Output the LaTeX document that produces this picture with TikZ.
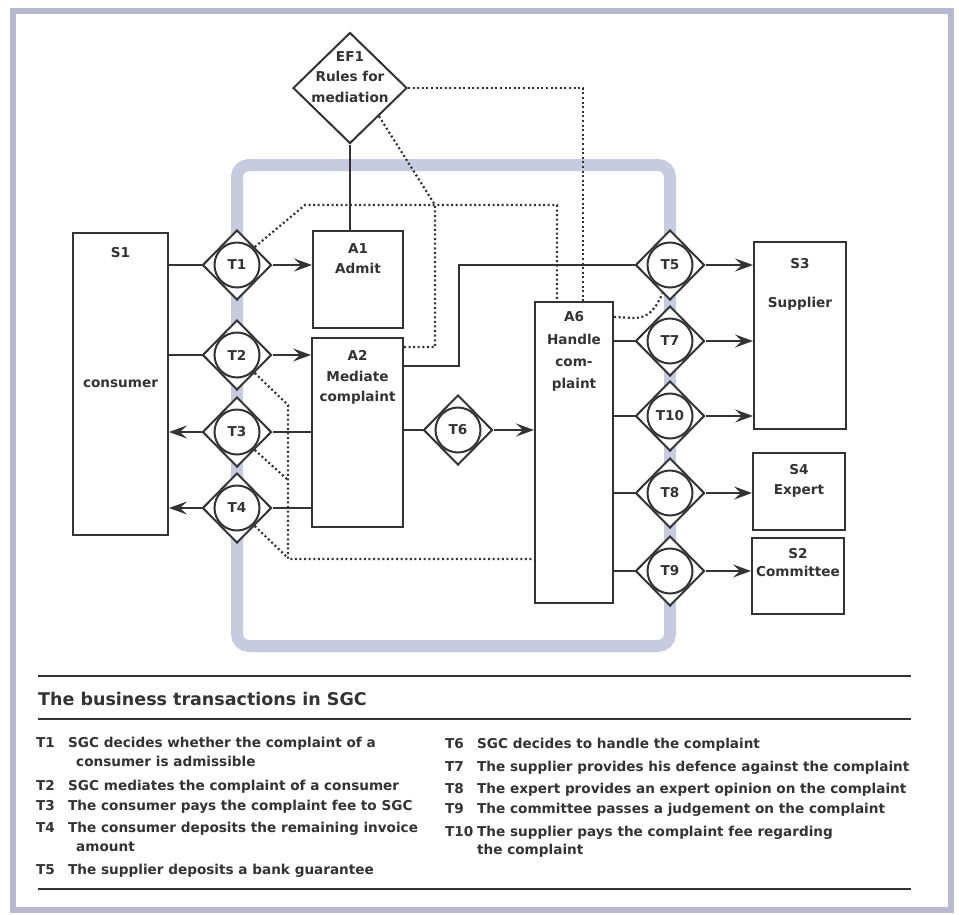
\documentclass[tikz,border=0pt]{standalone}
\usepackage{fontspec}
\setmainfont{DejaVu Sans}
\usetikzlibrary{shapes.geometric, arrows.meta}
\definecolor{ink}{HTML}{333333}
\definecolor{bandgrey}{HTML}{C8CBE0}
\definecolor{framegrey}{HTML}{B8B8D0}

\begin{document}
\begin{tikzpicture}[x=1pt, y=-1pt,
    font=\fontsize{13.6}{20.5}\selectfont\bfseries,
    every node/.style={text=ink},
    box/.style={rectangle, draw=ink, line width=2pt, fill=white, align=center},
    trans/.style={diamond, draw=ink, line width=2pt, fill=white, inner sep=0pt,
        minimum width=69pt, minimum height=70pt,
        path picture={\draw[ink, line width=2pt] (path picture bounding box.center) circle (22.5pt);}},
    tag/.style={align=center, anchor=north},
    link/.style={draw=ink, line width=2pt},
    arr/.style={draw=ink, line width=2pt, -{Stealth[length=18pt, width=13pt, inset=7pt]}},
    dots/.style={draw=ink, line width=2.2pt, dash pattern=on 2pt off 2.6pt},
    item/.style={anchor=base west, inner sep=0pt}
]
        \fill[white] (0,0) rectangle (959,914);
        \useasboundingbox (0,0) rectangle (959,914);

        % Frame and system boundary
        \draw[framegrey, line width=6pt] (13,11) rectangle (951,910);
        \draw[bandgrey, line width=12pt, rounded corners=12pt] (237,165) rectangle (670,646);

        % Draw nodes
        \node[box, minimum width=95pt, minimum height=302pt, label={[tag, yshift=-12pt]north:S1}] (S1) at (120.5,384) {consumer};
        \node[box, minimum width=90pt, minimum height=97pt, label={[tag, yshift=-10pt]north:A1\\Admit}] (A1) at (358,279.5) {};
        \node[box, minimum width=91pt, minimum height=189pt, label={[tag, yshift=-10pt]north:A2\\Mediate\\complaint}] (A2) at (357.5,432.5) {};
        \node[box, minimum width=78pt, minimum height=301pt, label={[tag, yshift=-7pt]north:A6\\[2pt]Handle\\[2pt]com-\\[1pt]plaint}] (A6) at (574,452.5) {};
        \node[box, minimum width=92pt, minimum height=187pt, label={[tag, yshift=-14pt]north:S3\\[18pt]Supplier}] (S3) at (800,335.5) {};
        \node[box, minimum width=92pt, minimum height=77pt, label={[tag, yshift=-9pt]north:S4\\[-1pt]Expert}] (S4) at (799,491.5) {};
        \node[box, minimum width=92pt, minimum height=76pt, label={[tag, yshift=-8pt]north:S2\\[-3pt]Committee}] (S2) at (798,576) {};

        \node[diamond, draw=ink, line width=2pt, fill=white, inner sep=0pt, minimum width=114pt, minimum height=111pt] (EF1) at (350,88) {};
        \node[align=center] (EF1text) at ([yshift=11pt]EF1.center) {EF1\\Rules for\\mediation};

        \node[trans] (T1) at (237,265) {T1};
        \node[trans] (T2) at (237,355) {T2};
        \node[trans] (T3) at (237,432) {T3};
        \node[trans] (T4) at (237,508) {T4};
        \node[trans] (T6) at (458,430) {T6};
        \node[trans] (T5) at (670,265) {T5};
        \node[trans] (T7) at (670,341) {T7};
        \node[trans] (T10) at (670,416) {T10};
        \node[trans] (T8) at (670,493) {T8};
        \node[trans] (T9) at (670,571) {T9};

        % Draw connections
        \draw[link] (S1.east |- T1) -- (T1.west);
        \draw[arr] (T1.east) -- (T1 -| A1.west);
        \draw[link] (S1.east |- T2) -- (T2.west);
        \draw[arr] (T2.east) -- (T2 -| A2.west);
        \draw[link] (A2.west |- T3) -- (T3.east);
        \draw[arr] (T3.west) -- (T3 -| S1.east);
        \draw[link] (A2.west |- T4) -- (T4.east);
        \draw[arr] (T4.west) -- (T4 -| S1.east);

        \draw[link] (EF1.south) -- (EF1.south |- A1.north);

        \draw[link] ([yshift=-29pt]A2.north east) -- ++(55,0) |- (T5.west);
        \draw[arr] (T5.east) -- (T5 -| S3.west);
        \draw[link] (A2.east |- T6) -- (T6.west);
        \draw[arr] (T6.east) -- (T6 -| A6.west);

        \draw[link] (A6.east |- T7) -- (T7.west);
        \draw[arr] (T7.east) -- (T7 -| S3.west);
        \draw[link] (A6.east |- T10) -- (T10.west);
        \draw[arr] (T10.east) -- (T10 -| S3.west);
        \draw[link] (A6.east |- T8) -- (T8.west);
        \draw[arr] (T8.east) -- (T8 -| S4.west);
        \draw[link] (A6.east |- T9) -- (T9.west);
        \draw[arr] (T9.east) -- (T9 -| S2.west);

        % Dotted links
        \draw[dots] (EF1.east) -| ([xshift=9pt]A6.north);
        \draw[dots] (EF1.south east) -- (435,205) |- ([yshift=-10pt]A2.north east);
        \draw[dots] (T1.north east) -- (305,205) -| ([xshift=-17pt]A6.north);
        \draw[dots] (T2.south east) -- (288,405) |- ([yshift=45pt]A6.south west);
        \draw[dots] (T3.south east) -- (288,480);
        \draw[dots] (T4.south east) -- (288,558);
        \draw[dots] ([yshift=-16pt]A6.north east) -- (635,318) .. controls (650,318) and (657,306) .. (T5.-105);

        % Legend
        \draw[ink, line width=2.4pt] (38,676) -- (911,676);
        \node[item, font=\fontsize{17.5}{20}\selectfont\bfseries] (title) at (38,705) {The business transactions in SGC};
        \draw[ink, line width=2.4pt] (38,719) -- (911,719);

        \node[item] (k1) at (36,747) {T1};
        \node[item] (d1) at (68,747) {SGC decides whether the complaint of a};
        \node[item] (d1b) at (76,766) {consumer is admissible};
        \node[item] (k2) at (36,790) {T2};
        \node[item] (d2) at (68,790) {SGC mediates the complaint of a consumer};
        \node[item] (k3) at (36,810) {T3};
        \node[item] (d3) at (68,810) {The consumer pays the complaint fee to SGC};
        \node[item] (k4) at (36,832) {T4};
        \node[item] (d4) at (68,832) {The consumer deposits the remaining invoice};
        \node[item] (d4b) at (76,851) {amount};
        \node[item] (k5) at (36,874) {T5};
        \node[item] (d5) at (68,874) {The supplier deposits a bank guarantee};

        \node[item] (k6) at (445,748) {T6};
        \node[item] (d6) at (477,748) {SGC decides to handle the complaint};
        \node[item] (k7) at (445,771) {T7};
        \node[item] (d7) at (477,771) {The supplier provides his defence against the complaint};
        \node[item] (k8) at (445,793) {T8};
        \node[item] (d8) at (477,793) {The expert provides an expert opinion on the complaint};
        \node[item] (k9) at (445,813) {T9};
        \node[item] (d9) at (477,813) {The committee passes a judgement on the complaint};
        \node[item] (k10) at (445,836) {T10};
        \node[item] (d10) at (477,836) {The supplier pays the complaint fee regarding};
        \node[item] (d10b) at (477,854) {the complaint};

        \draw[ink, line width=2.4pt] (38,889) -- (911,889);
    \end{tikzpicture}
\end{document}
